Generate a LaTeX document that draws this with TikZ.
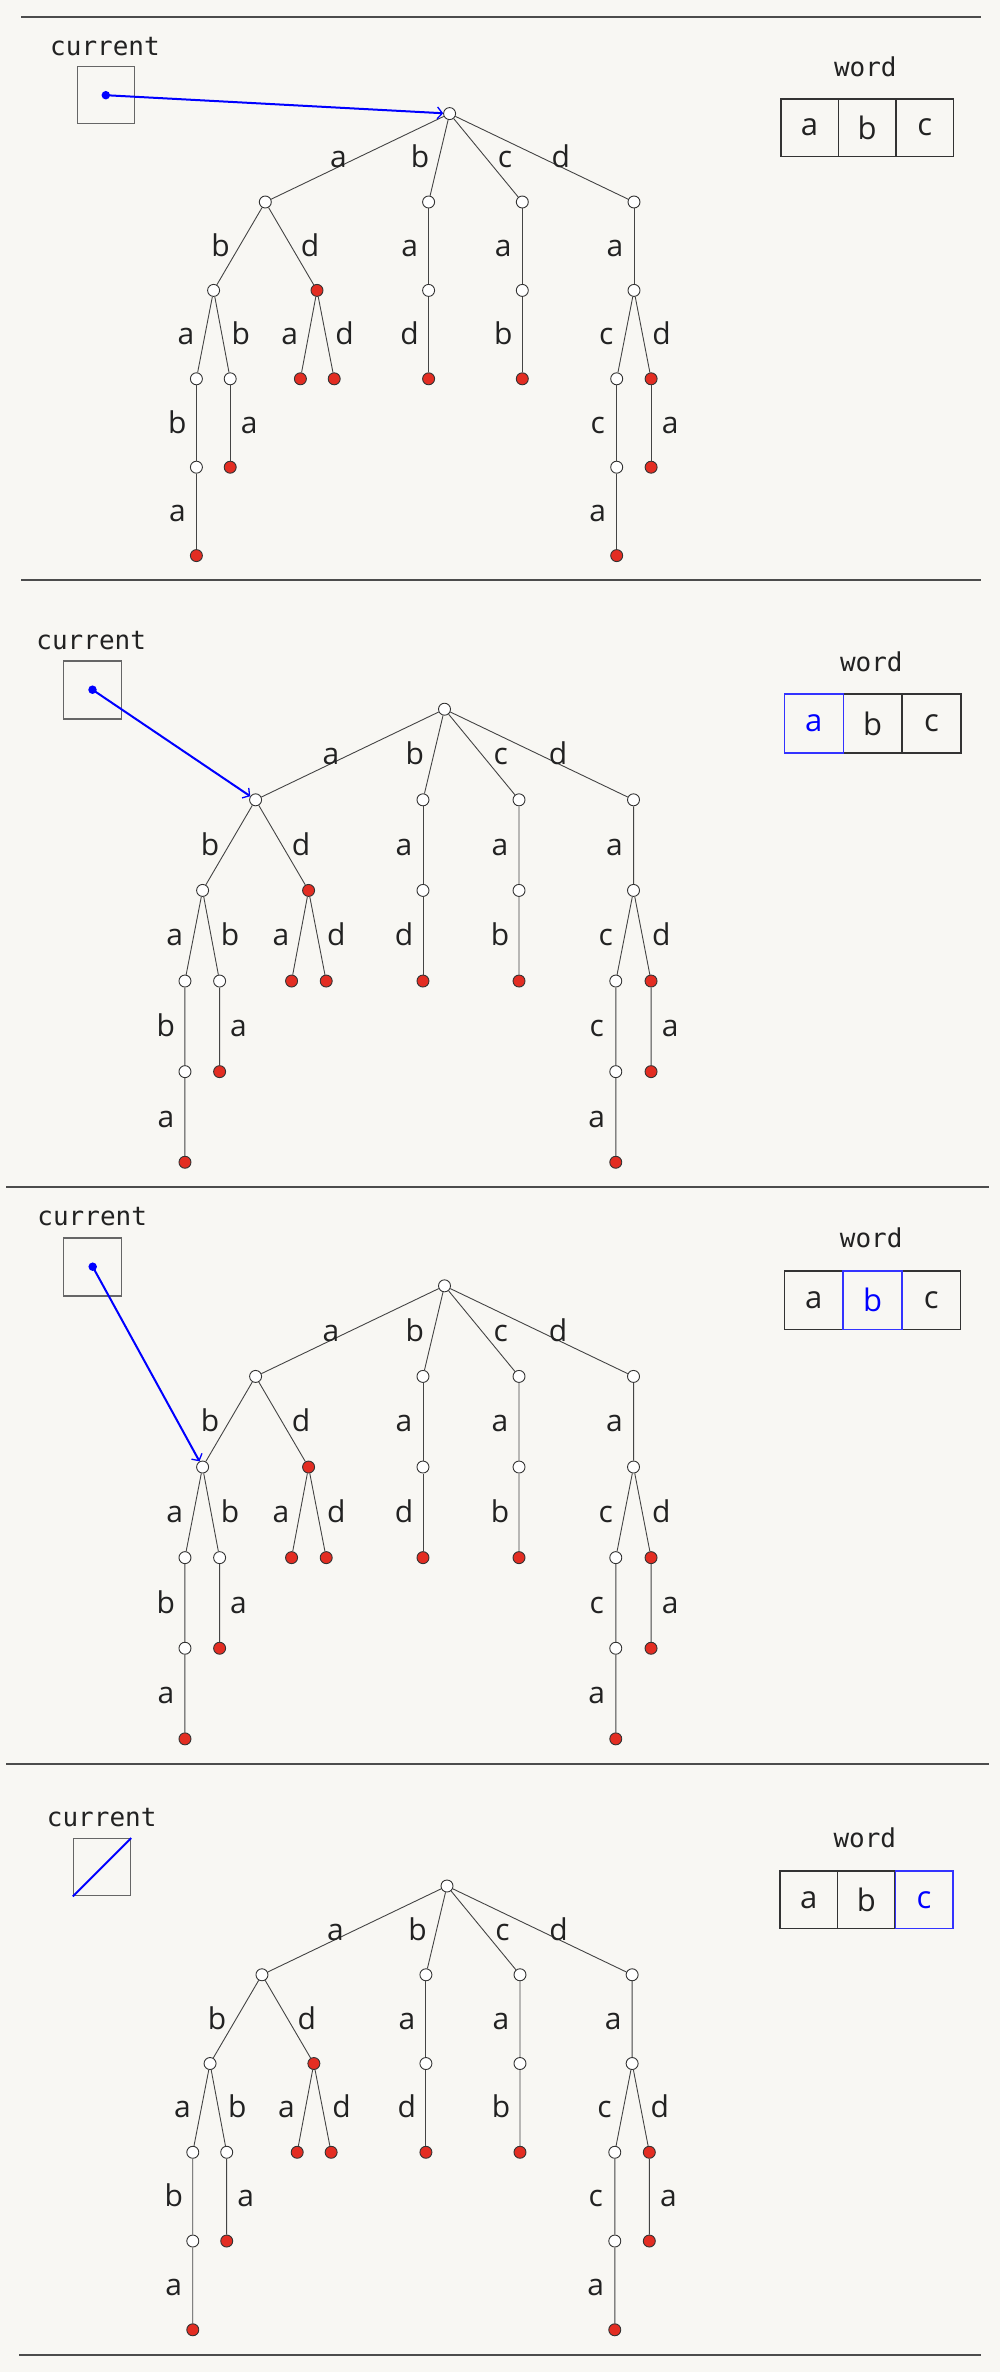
\documentclass[tikz,border=0pt]{standalone}
\usepackage{fontspec}
\setmainfont{Open Sans}
\newfontfamily\monof{DejaVu Sans Mono}
\usetikzlibrary{arrows.meta}
\definecolor{bg}{HTML}{F8F7F3}
\definecolor{edgec}{HTML}{444444}
\definecolor{redn}{HTML}{E32D22}
\definecolor{ptr}{HTML}{0000FF}
\definecolor{txt}{HTML}{222222}
\tikzset{
  tn/.style={circle, draw=black!80, line width=0.9pt, fill=white, minimum size=12pt, inner sep=0pt},
  tr/.style={tn, fill=redn},
  te/.style={draw=edgec, line width=0.9pt},
  lbl/.style={anchor=base, yshift=-10pt, font=\fontsize{30}{32}\selectfont, text=txt, inner sep=0pt},
  lL/.style={lbl, xshift=-19pt},
  lR/.style={lbl, xshift=19pt},
  monolbl/.style={anchor=base, font=\monof\fontsize{26}{28}\selectfont, text=txt, inner sep=0pt},
  curbox/.style={draw=black!60, line width=1.4pt, minimum size=57pt, inner sep=0pt},
  cell/.style={draw=black!80, line width=1.5pt, minimum width=#1, minimum height=#1, inner sep=0pt, font=\fontsize{31}{32}\selectfont, text=txt},
  hcell/.style={cell=#1, draw=ptr!80, text=ptr},
  ptrdot/.style={circle, fill=ptr, minimum size=8.5pt, inner sep=0pt},
  ptrline/.style={draw=ptr, line width=2pt, -{Straight Barb[length=5pt,width=12pt,line width=1.3pt]}},
  sep/.style={draw=black!70, line width=2pt},
}
\newcommand{\mytrie}[4]{%
\begin{scope}[shift={(#2,#3)}, scale=#4]
  \node[tn] (#1r) at (0,0) {};
  % level 1
  \node[tn] (#1a) at (-184.3,88.4) {};
  \node[tn] (#1b) at (-21,88.4) {};
  \node[tn] (#1c) at (72.7,88.4) {};
  \node[tn] (#1d) at (184.4,88.4) {};
  % level 2
  \node[tn] (#1ab) at (-236,176.8) {};
  \node[tr] (#1ad) at (-132.6,176.8) {};
  \node[tn] (#1ba) at (-21,176.8) {};
  \node[tn] (#1ca) at (72.7,176.8) {};
  \node[tn] (#1da) at (184.4,176.8) {};
  % level 3
  \node[tn] (#1aba) at (-253.2,265.2) {};
  \node[tn] (#1abb) at (-219.4,265.2) {};
  \node[tr] (#1ada) at (-149.2,265.2) {};
  \node[tr] (#1add) at (-115.4,265.2) {};
  \node[tr] (#1bad) at (-21,265.2) {};
  \node[tr] (#1cab) at (72.7,265.2) {};
  \node[tn] (#1dac) at (167.1,265.2) {};
  \node[tr] (#1dad) at (201.5,265.2) {};
  % level 4
  \node[tn] (#1abab) at (-253.2,353.6) {};
  \node[tr] (#1abba) at (-219.4,353.6) {};
  \node[tn] (#1dacc) at (167.1,353.6) {};
  \node[tr] (#1dada) at (201.5,353.6) {};
  % level 5
  \node[tr] (#1ababa) at (-253.2,442) {};
  \node[tr] (#1dacca) at (167.1,442) {};
  % edges
  \draw[te] (#1r) -- node[lL] {a} (#1a);
  \draw[te] (#1r) -- node[lL] {b} (#1b);
  \draw[te] (#1r) -- node[lR] {c} (#1c);
  \draw[te] (#1r) -- node[lR] {d} (#1d);
  \draw[te] (#1a) -- node[lL] {b} (#1ab);
  \draw[te] (#1a) -- node[lR] {d} (#1ad);
  \draw[te] (#1b) -- node[lL] {a} (#1ba);
  \draw[te] (#1c) -- node[lL] {a} (#1ca);
  \draw[te] (#1d) -- node[lL] {a} (#1da);
  \draw[te] (#1ab) -- node[lL] {a} (#1aba);
  \draw[te] (#1ab) -- node[lR] {b} (#1abb);
  \draw[te] (#1ad) -- node[lL] {a} (#1ada);
  \draw[te] (#1ad) -- node[lR] {d} (#1add);
  \draw[te] (#1ba) -- node[lL] {d} (#1bad);
  \draw[te] (#1ca) -- node[lL] {b} (#1cab);
  \draw[te] (#1da) -- node[lL] {c} (#1dac);
  \draw[te] (#1da) -- node[lR] {d} (#1dad);
  \draw[te] (#1aba) -- node[lL] {b} (#1abab);
  \draw[te] (#1abb) -- node[lR] {a} (#1abba);
  \draw[te] (#1dac) -- node[lL] {c} (#1dacc);
  \draw[te] (#1dad) -- node[lR] {a} (#1dada);
  \draw[te] (#1abab) -- node[lL] {a} (#1ababa);
  \draw[te] (#1dacc) -- node[lL] {a} (#1dacca);
\end{scope}}
\begin{document}
\begin{tikzpicture}[x=1pt,y=-1pt]
  \fill[bg] (0,0) rectangle (1000,2372);
  \useasboundingbox (0,0) rectangle (1000,2372);
  % separators
  \draw[sep] (21,16.6) -- (981,16.6);
  \draw[sep] (21,580) -- (981,580);
  \draw[sep] (6,1186.8) -- (989,1186.8);
  \draw[sep] (6,1763.5) -- (989,1763.5);
  \draw[sep] (19,2355) -- (981,2355);

  % ---------- panel 1
  \node[monolbl] (cur1) at (105,55.7) {current};
  \node[curbox] (cb1) at (105.8,95.2) {};
  \node[monolbl] (wd1) at (865.3,76) {word};
  \node[cell=57.5pt] (w1a) at (809.5,127.7) {a};
  \node[cell=57.5pt] (w1b) at (867.2,127.7) {b};
  \node[cell=57.5pt] (w1c) at (924.7,127.7) {c};
  \mytrie{p1}{449.6}{113.6}{1}
  \node[ptrdot] (d1) at (105.8,95.2) {};
  \draw[ptrline] (d1.center) -- (p1r);

  % ---------- panel 2
  \node[monolbl] (cur2) at (91.2,649) {current};
  \node[curbox, minimum size=58pt] (cb2) at (92.5,690) {};
  \node[monolbl] (wd2) at (871.3,671.7) {word};
  \node[cell=58.9pt] (w2b) at (872.7,723.5) {b};
  \node[cell=58.9pt] (w2c) at (931.6,723.5) {c};
  \node[hcell=58.9pt] (w2a) at (813.8,723.5) {a};
  \mytrie{p2}{444.5}{709.2}{1.025}
  \node[ptrdot] (d2) at (92.5,689.7) {};
  \draw[ptrline] (d2.center) -- (p2a);

  % ---------- panel 3
  \node[monolbl] (cur3) at (92.2,1225) {current};
  \node[curbox, minimum size=58pt] (cb3) at (92.5,1266.8) {};
  \node[monolbl] (wd3) at (871.2,1247.2) {word};
  \node[cell=58.7pt] (w3a) at (813.8,1300.1) {a};
  \node[cell=58.7pt] (w3c) at (931.2,1300.1) {c};
  \node[hcell=58.7pt] (w3b) at (872.5,1300.1) {b};
  \mytrie{p3}{444.5}{1285.8}{1.025}
  \node[ptrdot] (d3) at (92.7,1266.7) {};
  \draw[ptrline] (d3.center) -- (p3ab);

  % ---------- panel 4
  \node[monolbl] (cur4) at (101.7,1826.7) {current};
  \node[curbox] (cb4) at (102,1867.2) {};
  \draw[draw=ptr, line width=2pt] (cb4.south west) -- (cb4.north east);
  \node[monolbl] (wd4) at (864.8,1847.5) {word};
  \node[cell=57.5pt] (w4a) at (808.7,1899.7) {a};
  \node[cell=57.5pt] (w4b) at (866.4,1899.7) {b};
  \node[hcell=57.5pt] (w4c) at (924.1,1899.7) {c};
  \mytrie{p4}{447}{1886}{1.004}
\end{tikzpicture}
\end{document}
